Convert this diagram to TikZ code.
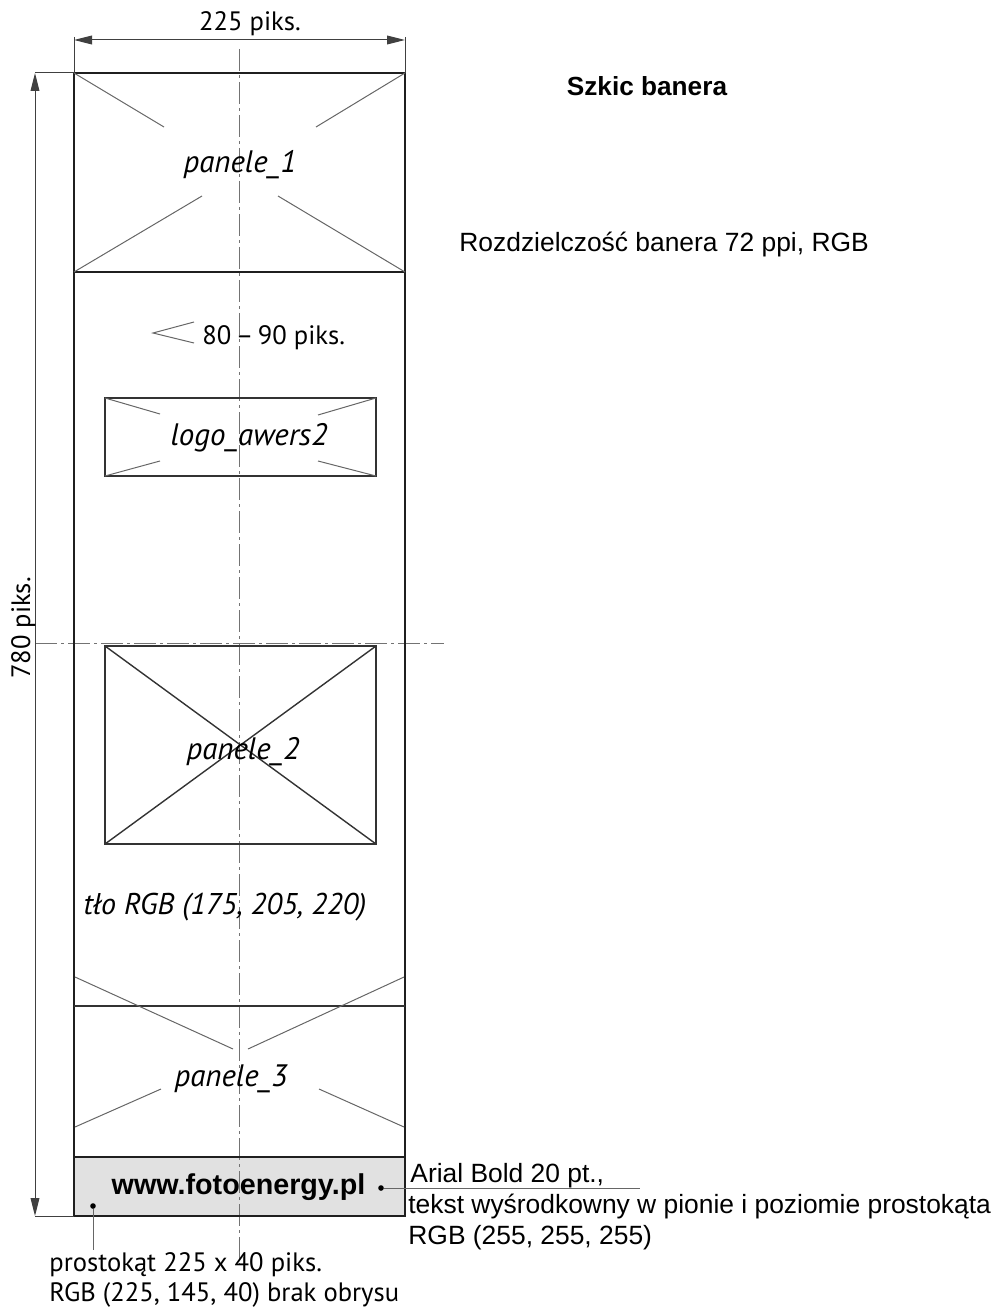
\documentclass[tikz,border=0pt]{standalone}
\usepackage{fontspec}
\setmainfont{Liberation Sans}
\newfontfamily\myr{PT Sans}
\usetikzlibrary{arrows.meta}
\definecolor{boxgray}{RGB}{225,225,225}
\begin{document}
\begin{tikzpicture}[x=0.5pt,y=-0.5pt,
  frame/.style={line width=1.1pt, draw=black!88},
  thin/.style={line width=0.7pt, draw=black!80},
  diag/.style={line width=0.5pt, draw=black!60},
  dimline/.style={line width=0.5pt, draw=black!75},
  axisline/.style={line width=0.45pt, draw=black!55, dash pattern=on 11pt off 2pt on 1.5pt off 2pt},
  arialtxt/.style={font=\fontsize{13.2pt}{15.5pt}\selectfont, inner sep=0pt},
  myrtxt/.style={font=\myr\fontsize{13.3pt}{15.5pt}\selectfont, inner sep=0pt},
  lbl/.style={font=\myr\itshape\fontsize{15.5pt}{18pt}\selectfont, inner sep=0pt},
  tip/.style={-{Triangle[length=9pt,width=4.4pt]}},
  dot/.style={circle, fill=black, inner sep=0pt, minimum size=2.8pt}
]
\useasboundingbox (0,0) rectangle (994,1310);

% corners
\coordinate (TL) at (74,73);
\coordinate (TR) at (405,73);
\coordinate (BL) at (74,1216);
\coordinate (BR) at (405,1216);

% gray box
\fill[boxgray] (74,1157) rectangle (405,1216);

% axis lines
\draw[axisline] (239.5,49) -- (239.5,1265);
\draw[axisline] (35,643) -- (444,643);

% banner outline
\draw[frame] (TL) rectangle (BR);
\draw[frame] (74,272) -- (405,272);
\draw[thin] (74,1006) -- (405,1006);
\draw[frame] (74,1157) -- (405,1157);

% panele_1 diagonals
\draw[diag] (74,73) -- (164,127);
\draw[diag] (405,73) -- (316,127);
\draw[diag] (74,272) -- (202,196);
\draw[diag] (405,272) -- (278,196);

% angle mark
\draw[diag] (194,322) -- (153,333) -- (194,343);

% logo box
\draw[thin] (105,398) rectangle (376,476);
\draw[diag] (105,398) -- (160,414);
\draw[diag] (376,398) -- (318,415);
\draw[diag] (105,476) -- (160,461);
\draw[diag] (376,476) -- (318,461);

% panele_2
\draw[thin] (105,646) rectangle (376,844);
\draw[thin] (105,646) -- (376,844);
\draw[thin] (376,646) -- (105,844);

% panele_3 diagonals
\draw[diag] (75,977) -- (233,1049);
\draw[diag] (404,977) -- (248,1049);
\draw[diag] (75,1127) -- (161,1089);
\draw[diag] (404,1127) -- (319,1089);

% dimensions
\draw[dimline] (74,37) -- (TL);
\draw[dimline] (405,37) -- (TR);
\draw[dimline, tip] (240,40) -- (74,40);
\draw[dimline, tip] (240,40) -- (405,40);
\draw[dimline] (35,73) -- (TL);
\draw[dimline] (35,1216) -- (BL);
\draw[dimline, tip] (35,640) -- (35,73);
\draw[dimline, tip] (35,640) -- (35,1216);

% texts
\node[myrtxt, anchor=base] (w) at (250,31) {225 piks.};
\node[myrtxt, rotate=90, anchor=base] (h) at (30,628) {780 piks.};
\node[lbl] (p1) at (240,165) {panele\_1};
\node[myrtxt, anchor=west] (ang) at (202,338) {80\,–\,90 piks.};
\node[lbl] (logo) at (249,438) {logo\_awers2};
\node[lbl] (p2) at (243,752) {panele\_2};
\node[lbl, font=\myr\itshape\fontsize{15pt}{18pt}\selectfont] (tlo) at (225,907) {tło RGB (175, 205, 220)};
\node[lbl] (p3) at (231,1079) {panele\_3};
\node[font=\bfseries\fontsize{14.35pt}{16pt}\selectfont, inner sep=0pt] (www) at (238.5,1187) {www.fotoenergy.pl};

\node[arialtxt, font=\bfseries\fontsize{13.1pt}{15pt}\selectfont, anchor=base] (title) at (647,96) {Szkic banera};
\node[arialtxt, anchor=base west] (res) at (459,252) {Rozdzielczość banera 72 ppi, RGB};

\node[arialtxt, anchor=base west] (a1) at (410,1182) {Arial Bold 20 pt.,};
\node[arialtxt, anchor=base west] (a2) at (408,1213) {tekst wyśrodkowny w pionie i poziomie prostokąta};
\node[arialtxt, anchor=base west] (a3) at (408,1244) {RGB (255, 255, 255)};

\node[myrtxt, anchor=base west] (b1) at (49,1271) {prostokąt 225 x 40 piks.};
\node[myrtxt, anchor=base west] (b2) at (49,1301) {RGB (225, 145, 40) brak obrysu};

% leaders
\node[dot] (d1) at (381,1188) {};
\node[dot] (d2) at (93,1206) {};
\coordinate (e1) at (640,1188);
\coordinate (e2) at (93,1250);
\draw[diag] (d1) -- (e1);
\draw[diag] (d2) -- (e2);
\end{tikzpicture}
\end{document}
